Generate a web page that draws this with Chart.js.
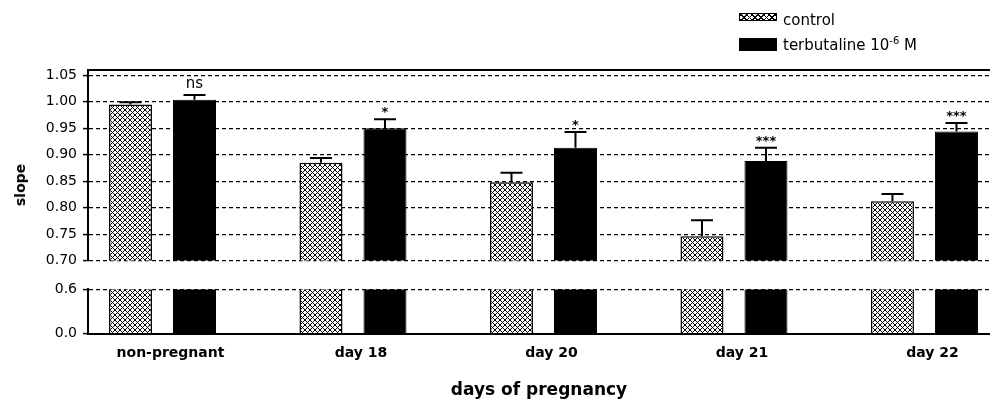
<!DOCTYPE html>
<html>
<head>
<meta charset="utf-8">
<script src="https://cdn.jsdelivr.net/npm/chart.js@4"></script>
<style>
  body { margin: 0; background: #fff; }
  #wrap { position: relative; width: 990px; height: 401px; font-family: 'DejaVu Sans', sans-serif; color: #000; }
  #topBox { position: absolute; left: 0; top: 0; width: 990px; height: 275px; }
  #botBox { position: absolute; left: 0; top: 275px; width: 990px; height: 126px; }
  .sw { position: absolute; left: 739px; width: 38px; box-sizing: border-box; }
  .hatch {
    border: 1px solid #000;
    background:
      repeating-linear-gradient(45deg, #000 0 1px, transparent 1px 4px),
      repeating-linear-gradient(-45deg, #000 0 1px, #fff 1px 4px);
  }
  .lab { position: absolute; left: 783px; font-size: 15px; line-height: 18px; white-space: nowrap; }
  .lab sup { font-size: 10px; line-height: 0; }
  #ytitle { position: absolute; left: 19.5px; top: 185px; transform: translate(-50%, -50%) rotate(-90deg);
    font-weight: bold; font-size: 14px; white-space: nowrap; }
</style>
</head>
<body>
<div id="wrap">
  <div id="topBox"><canvas id="upper"></canvas></div>
  <div id="botBox"><canvas id="lower"></canvas></div>
  <div class="sw hatch" style="top:13px;height:8px"></div>
  <div class="lab" style="top:11px">control</div>
  <div class="sw" style="top:38px;height:13px;background:#000"></div>
  <div class="lab" style="top:36px">terbutaline 10<sup>-6</sup> M</div>
  <div id="ytitle">slope</div>
</div>
<script>
const categories = ['non-pregnant', 'day 18', 'day 20', 'day 21', 'day 22']
const control = [0.995, 0.885, 0.848, 0.746, 0.812]
const controlErr = [0.004, 0.009, 0.018, 0.030, 0.014]
const terbutaline = [1.004, 0.950, 0.913, 0.888, 0.944]
const terbutalineErr = [0.009, 0.017, 0.030, 0.025, 0.016]
const significance = ['ns', '*', '*', '***', '***']
const upperTicks = [0.70, 0.75, 0.80, 0.85, 0.90, 0.95, 1.00, 1.05]
const lowerTicks = [0.0, 0.6]

Chart.defaults.font.family = "'DejaVu Sans', sans-serif"
Chart.defaults.color = '#000'

// crosshatch fill for the control bars
function makeHatch() {
  const c = document.createElement('canvas')
  c.width = 5
  c.height = 5
  const g = c.getContext('2d')
  g.fillStyle = '#fff'
  g.fillRect(0, 0, 5, 5)
  g.strokeStyle = '#000'
  g.lineWidth = 1
  g.beginPath()
  g.moveTo(0, 0); g.lineTo(5, 5)
  g.moveTo(5, 0); g.lineTo(0, 5)
  g.stroke()
  return g.createPattern(c, 'repeat')
}
const hatch = makeHatch()

const points = (vals) => vals.map((v, i) => ({ x: i, y: v }))

function datasets() {
  return [
    {
      label: 'control',
      data: points(control),
      backgroundColor: hatch,
      borderColor: '#000',
      borderWidth: 1.5,
      clip: 0,
      errors: controlErr,
    },
    {
      label: 'terbutaline 10⁻⁶ M',
      data: points(terbutaline),
      backgroundColor: '#000',
      borderColor: '#000',
      borderWidth: 1,
      clip: 0,
      errors: terbutalineErr,
      marks: significance,
    },
  ]
}

function xAxis(position, showLabels, height) {
  return {
    type: 'linear',
    position: position,
    min: -0.391,
    max: 4.344,
    offset: false,
    afterBuildTicks: (s) => {
      s.ticks = categories.map((c, i) => ({ value: i }))
    },
    afterFit: (s) => {
      s.height = height
    },
    grid: { display: false },
    border: { color: '#000', width: 2 },
    ticks: {
      display: showLabels,
      autoSkip: false,
      maxRotation: 0,
      padding: 3,
      labelOffset: 8,
      font: { size: 14, weight: 'bold' },
      callback: (v) => categories[v],
    },
    title: {
      display: showLabels,
      text: 'days of pregnancy',
      font: { size: 17, weight: 'bold' },
      padding: { top: 10, bottom: 0 },
    },
  }
}

function yAxis(min, max, ticks, digits) {
  return {
    min: min,
    max: max,
    afterBuildTicks: (s) => {
      s.ticks = ticks.map((v) => ({ value: v }))
    },
    afterFit: (s) => {
      s.width = 88
    },
    grid: {
      color: '#000',
      lineWidth: 1.2,
      tickLength: 5,
      tickColor: '#000',
      tickWidth: 1.5,
      tickBorderDash: [],
    },
    border: { color: '#000', width: 2, dash: [4, 3] },
    ticks: {
      padding: 6,
      font: { size: 14 },
      callback: (v) => Number(v).toFixed(digits),
    },
  }
}

const errorBars = {
  id: 'errorBars',
  afterDatasetsDraw(chart) {
    const ctx = chart.ctx
    const y = chart.scales.y
    chart.data.datasets.forEach((ds, d) => {
      chart.getDatasetMeta(d).data.forEach((bar, i) => {
        const top = y.getPixelForValue(ds.data[i].y + ds.errors[i])
        ctx.save()
        ctx.strokeStyle = '#000'
        ctx.lineWidth = 2
        ctx.beginPath()
        ctx.moveTo(bar.x, bar.y)
        ctx.lineTo(bar.x, top)
        ctx.moveTo(bar.x - 11, top)
        ctx.lineTo(bar.x + 11, top)
        ctx.stroke()
        if (ds.marks) {
          const m = ds.marks[i]
          ctx.fillStyle = '#000'
          ctx.textAlign = 'center'
          ctx.textBaseline = 'alphabetic'
          if (m === 'ns') {
            ctx.font = "15px 'DejaVu Sans'"
            ctx.fillText(m, bar.x, top - 6.5)
          } else {
            ctx.font = "bold 13px 'DejaVu Sans'"
            ctx.fillText(m, bar.x, top - 3)
          }
        }
        ctx.restore()
      })
    })
  },
}

const common = {
  responsive: true,
  maintainAspectRatio: false,
  animation: false,
  categoryPercentage: 0.672,
  barPercentage: 0.672,
  plugins: { legend: { display: false }, tooltip: { enabled: false } },
}

new Chart(document.getElementById('upper'), {
  type: 'bar',
  data: { datasets: datasets() },
  options: {
    ...common,
    layout: { padding: { top: 0, bottom: 10.3, left: 0, right: 0 } },
    scales: {
      x: xAxis('top', false, 70),
      y: yAxis(0.7, 1.06, upperTicks, 2),
    },
  },
  plugins: [errorBars],
})

new Chart(document.getElementById('lower'), {
  type: 'bar',
  data: { datasets: datasets() },
  options: {
    ...common,
    layout: { padding: { top: 8.7, bottom: 0, left: 0, right: 0 } },
    scales: {
      x: xAxis('bottom', true, 67.3),
      y: yAxis(0, 0.6, lowerTicks, 1),
    },
  },
})
</script>
</body>
</html>
